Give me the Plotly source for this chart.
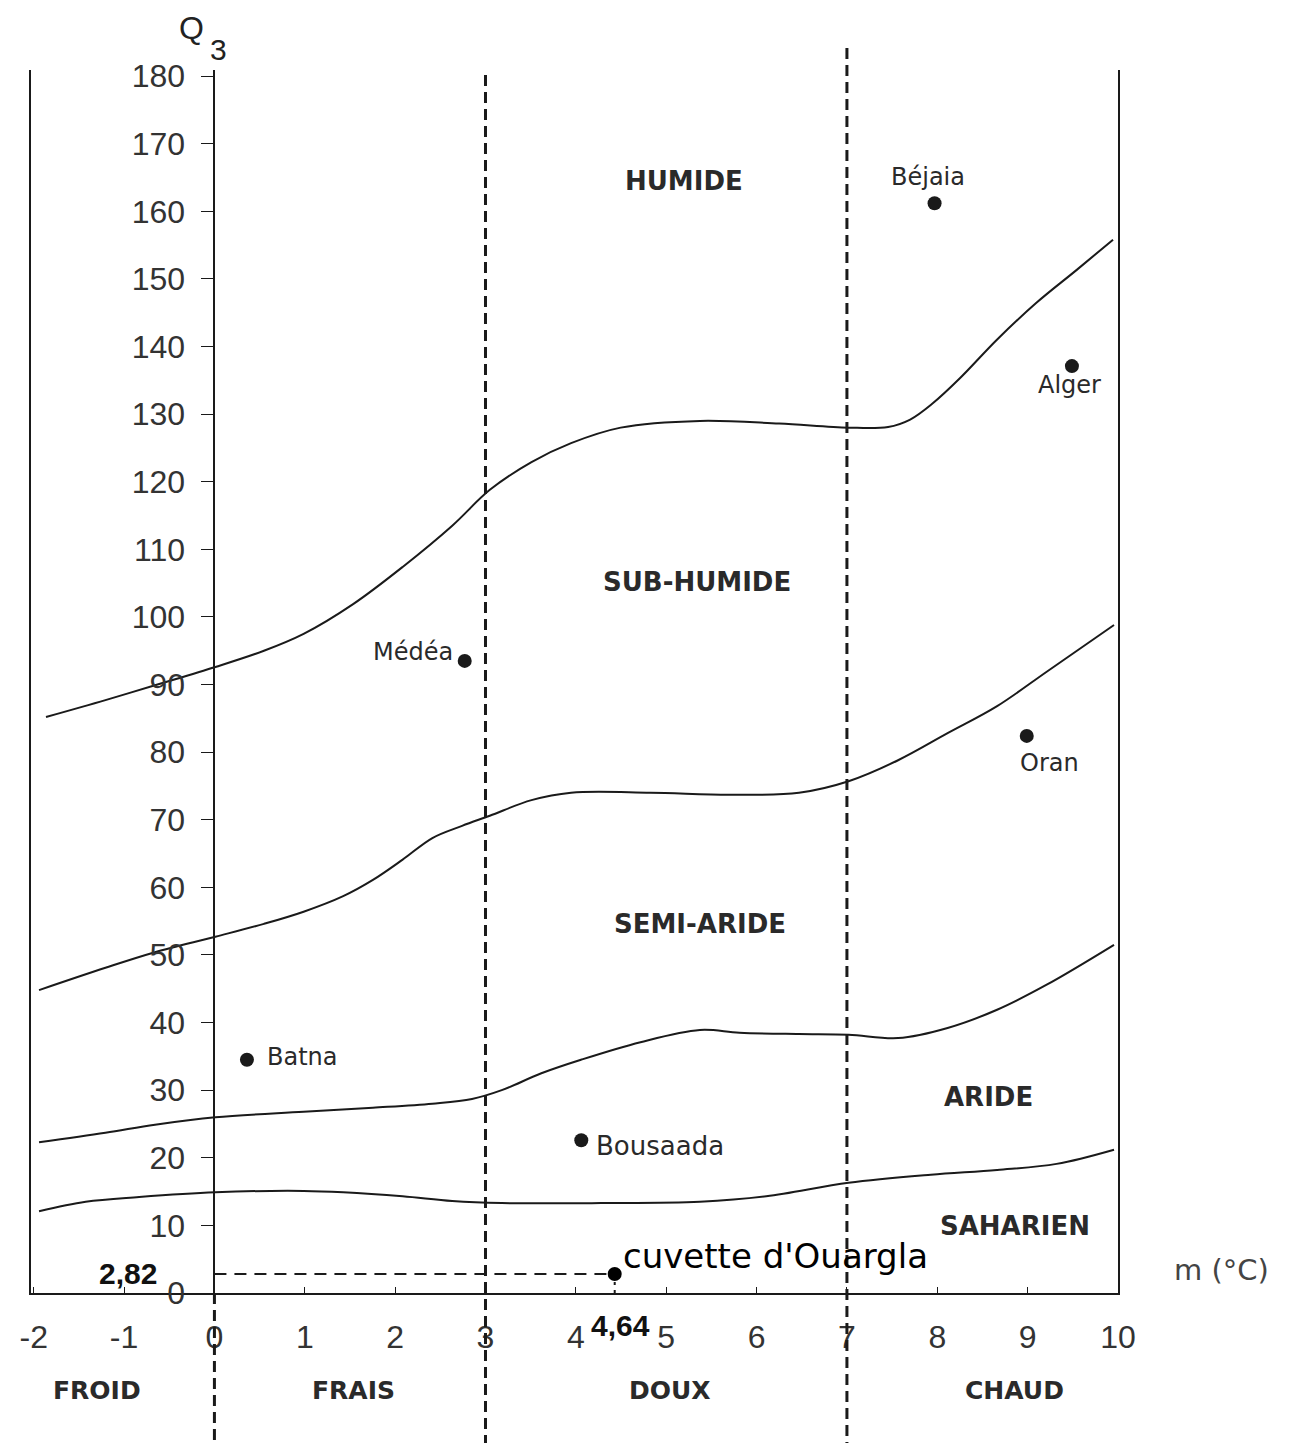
import plotly.graph_objects as go

# ---------------- data ----------------
x_ticks = [-2, -1, 0, 1, 2, 3, 4, 5, 6, 7, 8, 9, 10]
y_ticks = list(range(0, 181, 10))

# limit curves of the bioclimatic stages (m in °C, Q3)
c1_m = [-1.864, -1.206, -0.658, 0.011, 0.548, 0.987, 1.535, 2.083, 2.632, 3.048, 3.509, 3.947,
        4.496, 5.373, 6.250, 7.018, 7.456, 7.70, 7.95, 8.25, 8.66, 9.10, 9.54, 9.945]
c1_q = [85.2, 87.7, 89.9, 92.6, 95.0, 97.5, 101.9, 107.4, 113.5, 118.8, 122.9, 125.7,
        128.0, 129.0, 128.6, 128.0, 128.1, 129.2, 131.6, 135.3, 141.0, 146.5, 151.3, 155.8]

c2_m = [-1.941, -1.206, -0.658, 0.011, 0.548, 0.987, 1.425, 1.754, 2.083, 2.412, 2.741, 3.048,
        3.509, 3.947, 4.825, 5.702, 6.469, 7.018, 7.566, 8.114, 8.662, 9.211, 9.956]
c2_q = [44.8, 48.1, 50.4, 52.7, 54.6, 56.4, 58.7, 61.1, 64.1, 67.3, 69.1, 70.6,
        72.9, 74.0, 74.0, 73.7, 74.0, 75.7, 78.8, 82.8, 86.8, 91.9, 98.8]

c3_m = [-1.941, -1.206, -0.658, 0.011, 0.987, 1.754, 2.412, 2.851, 3.180, 3.618, 4.057, 4.715,
        5.373, 5.811, 6.469, 7.018, 7.566, 8.114, 8.662, 9.211, 9.956]
c3_q = [22.3, 23.7, 24.9, 26.0, 26.8, 27.4, 28.0, 28.7, 30.0, 32.5, 34.5, 37.1,
        38.9, 38.5, 38.3, 38.2, 37.7, 39.2, 41.9, 45.6, 51.5]

c4_m = [-1.941, -1.425, -0.833, 0.011, 0.987, 1.425, 2.083, 2.632, 3.180, 4.276, 5.373, 6.107,
        7.018, 7.928, 8.662, 9.320, 9.956]
c4_q = [12.1, 13.5, 14.2, 14.9, 15.1, 14.9, 14.3, 13.6, 13.3, 13.3, 13.5, 14.3,
        16.3, 17.5, 18.2, 19.1, 21.2]

stations = ["Béjaia", "Alger", "Médéa", "Oran", "Batna", "Bousaada"]
station_m = [7.97, 9.49, 2.77, 8.99, 0.36, 4.06]
station_q = [161.2, 137.1, 93.5, 82.4, 34.5, 22.6]

ouargla_name = "cuvette d'Ouargla"
ouargla_m = 4.43
ouargla_q = 2.82
ouargla_m_label = "4,64"
ouargla_q_label = "2,82"

stage_names = ["HUMIDE", "SUB-HUMIDE", "SEMI-ARIDE", "ARIDE", "SAHARIEN"]
stage_m = [5.20, 5.34, 5.37, 8.57, 8.86]
stage_q = [164.5, 105.2, 54.6, 29.0, 9.9]

winter_names = ["FROID", "FRAIS", "DOUX", "CHAUD"]
winter_m = [-1.30, 1.54, 5.04, 8.86]
winter_limits = [0, 3, 7]

x_range = [-2.03, 10.0]
y_range = [0, 180.9]

# ---------------- figure ----------------
INK = "#1a1a1a"
TICKF = dict(family="Liberation Sans, Arial", size=32, color="#333333")
BOLDF = dict(family="DejaVu Sans", size=26, color="#2a2a2a")

fig = go.Figure()

for cm, cq in [(c1_m, c1_q), (c2_m, c2_q), (c3_m, c3_q), (c4_m, c4_q)]:
    fig.add_trace(go.Scatter(x=cm, y=cq, mode="lines", line=dict(color=INK, width=2, shape="spline", smoothing=1.0),
                             hoverinfo="skip", xaxis="x", yaxis="y"))

# Ouargla dashed guides
fig.add_trace(go.Scatter(x=[0, ouargla_m], y=[ouargla_q, ouargla_q], mode="lines",
                         line=dict(color=INK, width=2, dash="12px,8px"), yaxis="y2"))
fig.add_trace(go.Scatter(x=[ouargla_m, ouargla_m], y=[0, ouargla_q], mode="lines",
                         line=dict(color=INK, width=2, dash="3px,5px"), yaxis="y2"))

fig.add_trace(go.Scatter(x=station_m, y=station_q, mode="markers",
                         marker=dict(color=INK, size=14), yaxis="y2"))
fig.add_trace(go.Scatter(x=[ouargla_m], y=[ouargla_q], mode="markers",
                         marker=dict(color="#000", size=14), yaxis="y2"))

xspan = x_range[1] - x_range[0]
def xfrac(v):
    return (v - x_range[0]) / xspan

# vertical dashed limits (extending below the axis)
plot_h = 1223.0
bottom_paper = -150.0 / plot_h
tops = {0: 0.0, 3: (1293 - 75) / plot_h, 7: (1293 - 48) / plot_h}
for v in winter_limits:
    fig.add_shape(type="line", xref="paper", yref="paper", x0=xfrac(v), x1=xfrac(v),
                  y0=tops[v], y1=bottom_paper, line=dict(color=INK, width=3, dash="11px,6px"))

# station labels (pixel offsets from the dots)
offs = {
    "Béjaia": dict(xanchor="center", yanchor="middle", xshift=-7, yshift=26),
    "Alger": dict(xanchor="center", yanchor="middle", xshift=-2, yshift=-19),
    "Médéa": dict(xanchor="right", yanchor="middle", xshift=-10, yshift=9),
    "Oran": dict(xanchor="center", yanchor="middle", xshift=23, yshift=-27),
    "Batna": dict(xanchor="left", yanchor="middle", xshift=18, yshift=3),
    "Bousaada": dict(xanchor="left", yanchor="middle", xshift=13, yshift=-6),
}
for name, m, q in zip(stations, station_m, station_q):
    size = 26 if name == "Bousaada" else 24
    fig.add_annotation(x=m, y=q, xref="x", yref="y2", text=name, showarrow=False,
                       font=dict(family="DejaVu Sans", size=size, color="#2a2a2a"), **offs[name])

fig.add_annotation(x=ouargla_m, y=ouargla_q, xref="x", yref="y2", text=ouargla_name, showarrow=False,
                   xanchor="left", yanchor="middle", xshift=6, yshift=18,
                   font=dict(family="DejaVu Sans", size=34, color="#000"))
fig.add_annotation(x=0, y=ouargla_q, xref="x", yref="y2", text="<b>" + ouargla_q_label + "</b>", showarrow=False,
                   xanchor="right", yanchor="middle", xshift=-55, yshift=0,
                   font=dict(family="Liberation Sans, Arial", size=30, color="#111"))
fig.add_annotation(x=ouargla_m, y=-32 / plot_h, xref="x", yref="paper", text="<b>" + ouargla_m_label + "</b>",
                   showarrow=False, xanchor="center", yanchor="middle", xshift=6,
                   font=dict(family="Liberation Sans, Arial", size=30, color="#111"))

for name, m, q in zip(stage_names, stage_m, stage_q):
    fig.add_annotation(x=m, y=q, xref="x", yref="y2", text="<b>" + name + "</b>", showarrow=False,
                       xanchor="center", yanchor="middle", font=BOLDF)

for name, m in zip(winter_names, winter_m):
    fig.add_annotation(x=m, y=-97 / plot_h, xref="x", yref="paper", text="<b>" + name + "</b>", showarrow=False,
                       xanchor="center", yanchor="middle", font=dict(family="DejaVu Sans", size=25, color="#2a2a2a"))

# axis titles
PW = 1096.0
fig.add_annotation(x=(1222 - 22) / PW, y=(1293 - 1270) / plot_h, xref="paper", yref="paper", text="m (°C)",
                   showarrow=False, xanchor="center", yanchor="middle",
                   font=dict(family="DejaVu Sans", size=29, color="#444"))
fig.add_annotation(x=(184 - 22) / PW, y=(1293 - 28) / plot_h, xref="paper", yref="paper", text="Q",
                   showarrow=False, xanchor="center", yanchor="middle",
                   font=dict(family="Liberation Sans, Arial", size=32, color="#222"))
fig.add_annotation(x=(211 - 22) / PW, y=(1293 - 49) / plot_h, xref="paper", yref="paper", text="3",
                   showarrow=False, xanchor="center", yanchor="middle",
                   font=dict(family="Liberation Sans, Arial", size=30, color="#222"))

# page body has an 8px default margin: shrink the figure so the plot sits where the reference has it
OFF = 8
fig.update_layout(
    width=1293 - OFF, height=1443 - OFF,
    margin=dict(l=22 - OFF, r=175, t=70 - OFF, b=150),
    paper_bgcolor="white", plot_bgcolor="white",
    showlegend=False,
    xaxis=dict(range=x_range, tickvals=x_ticks, ticktext=[str(t) for t in x_ticks],
               showline=True, linecolor=INK, linewidth=2, ticks="inside", ticklen=6, tickwidth=1,
               tickcolor=INK, tickfont=TICKF, showgrid=False, zeroline=False, ticklabelstandoff=15,
               fixedrange=True),
    yaxis=dict(range=y_range, showline=True, mirror=True, linecolor=INK, linewidth=2, ticks="",
               showticklabels=False, showgrid=False, zeroline=False),
    yaxis2=dict(range=y_range, overlaying="y", anchor="free", position=xfrac(0), side="left",
                tickvals=y_ticks, showline=True, linecolor=INK, linewidth=2, ticks="outside",
                ticklen=12, tickwidth=1, tickcolor=INK, tickfont=TICKF, showgrid=False,
                zeroline=False, ticklabelstandoff=10),
)

fig.write_html("out.html")
